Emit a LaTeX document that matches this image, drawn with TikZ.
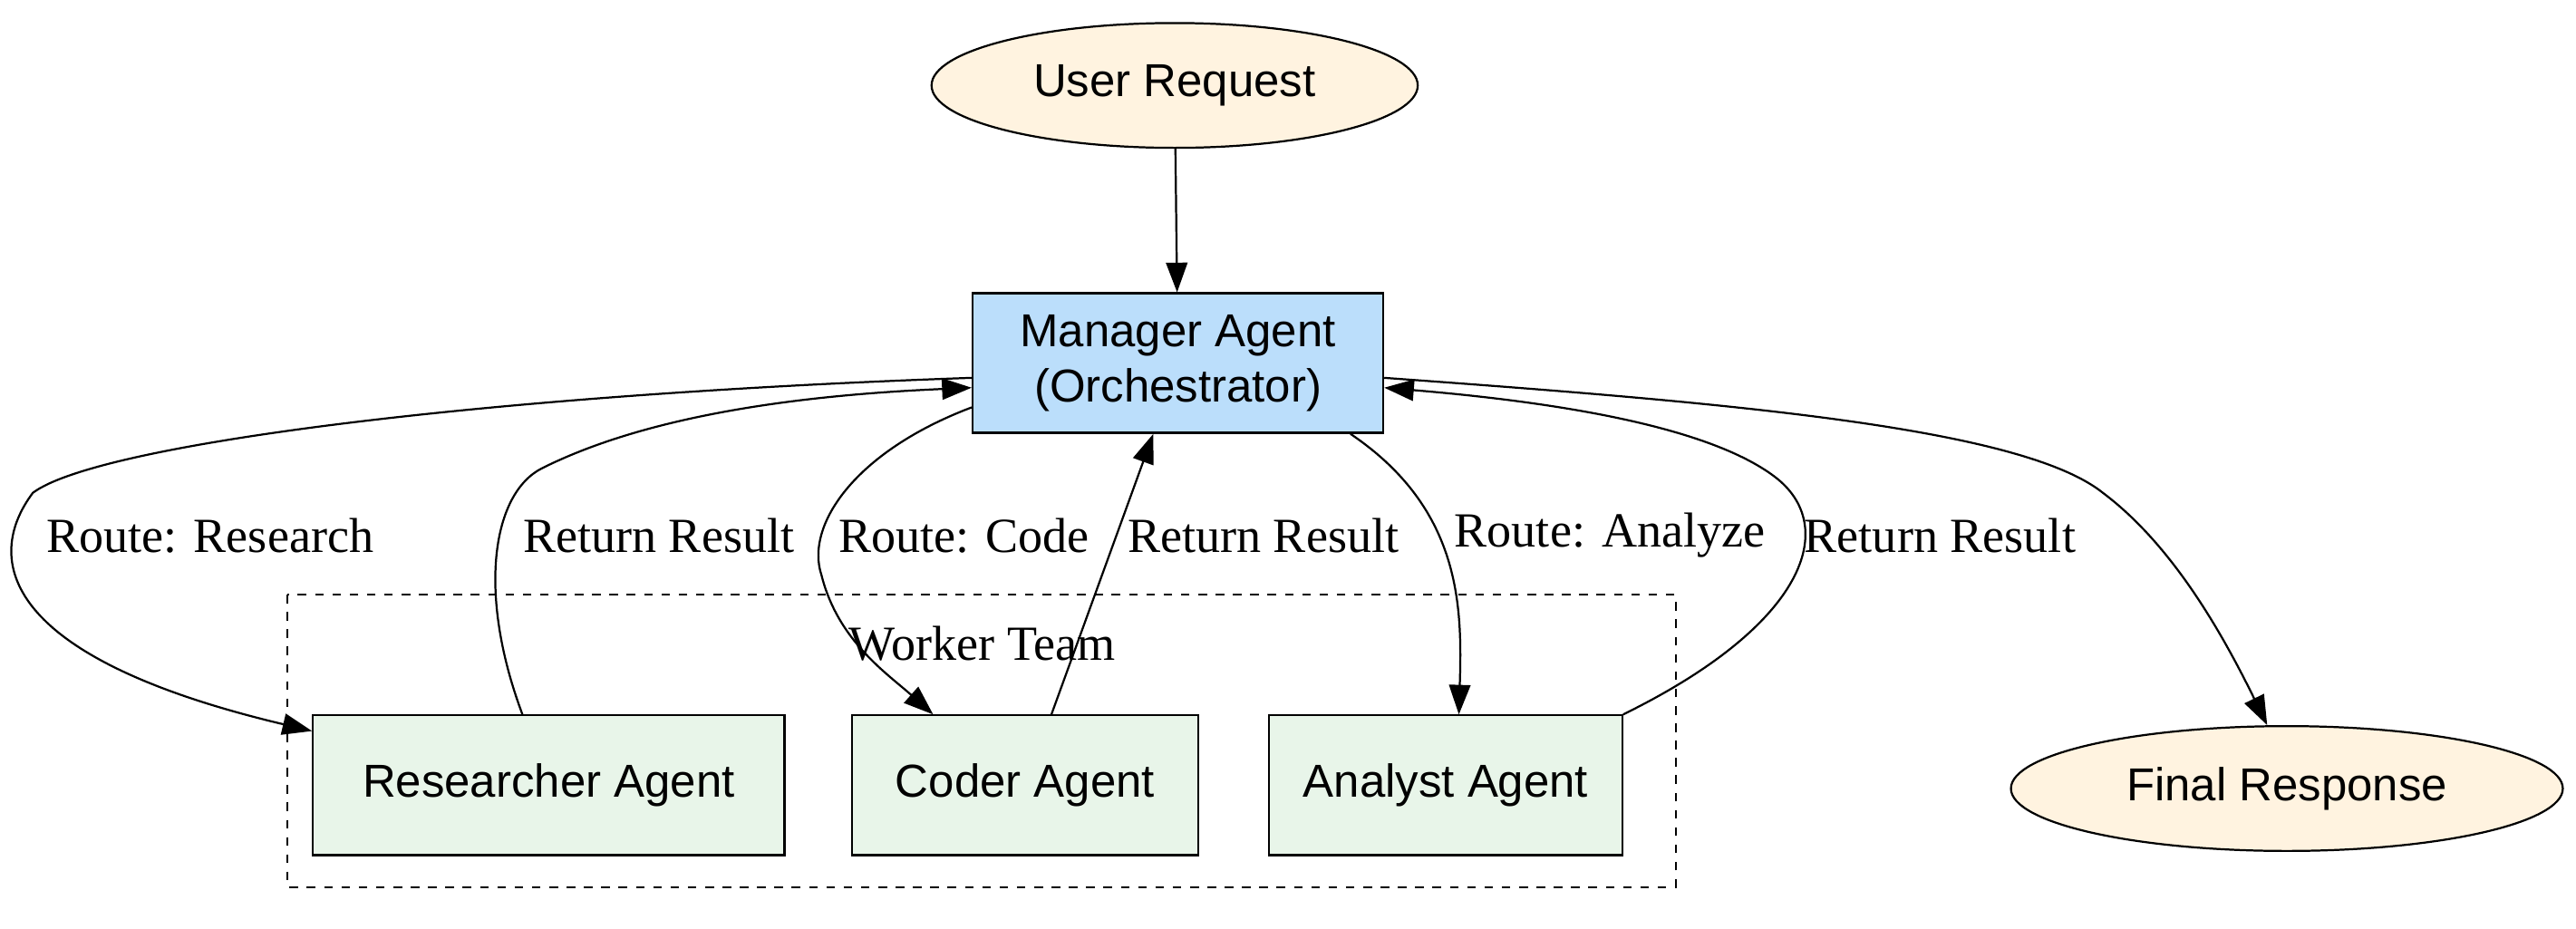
\documentclass[tikz,border=0pt]{standalone}
\usepackage{fontspec}
\setmainfont{Liberation Serif}
\setsansfont{Liberation Sans}
\usetikzlibrary{shapes.geometric,arrows.meta}
\definecolor{ioFill}{HTML}{FFF3E0}
\definecolor{mgrFill}{HTML}{BBDEFB}
\definecolor{wrkFill}{HTML}{E8F5E9}
\tikzset{
  io/.style={ellipse,draw,fill=ioFill,line width=0.7pt,minimum height=1.52cm,font=\sffamily\fontsize{16}{19}\selectfont},
  agent/.style={rectangle,draw,line width=0.7pt,minimum height=1.7cm,align=center,font=\sffamily\fontsize{16}{19}\selectfont},
  lbl/.style={font=\fontsize{17}{20}\selectfont,inner sep=0pt,anchor=west},
  flow/.style={-{Triangle[length=0.36cm,width=0.26cm]},line width=0.7pt}
}
\begin{document}
\begin{tikzpicture}[x=0.02cm,y=-0.02cm]
            \useasboundingbox (0,0) rectangle (1568,565);
            \draw[dashed,line width=0.7pt] (175,362) rectangle (1020,540);
            \node[lbl,anchor=center] (team) at (598,392) {Worker Team};

            \node[io,minimum width=5.92cm] (user) at (715,52) {User Request};
            \node[agent,fill=mgrFill,minimum width=5cm] (mgr) at (717,221) {Manager Agent\\(Orchestrator)};
            \node[agent,fill=wrkFill,minimum width=5.74cm] (res) at (334,478) {Researcher Agent};
            \node[agent,fill=wrkFill,minimum width=4.22cm] (cod) at (624,478) {Coder Agent};
            \node[agent,fill=wrkFill,minimum width=4.3cm] (ana) at (880,478) {Analyst Agent};
            \node[io,minimum width=6.72cm] (final) at (1392,480) {Final Response};

            \path[flow] (user) edge (mgr);
            \draw[flow] (mgr.west |- 0,230) .. controls (300,240) and (60,270) .. (20,300)
                .. controls (-10,340) and (0,400) .. (res.west |- 0,445);
            \draw[flow] (res.north -| 318,0) .. controls (290,360) and (300,300) .. (330,285)
                .. controls (400,250) and (500,240) .. (mgr.west |- 0,236);
            \draw[flow] (mgr.west |- 0,248) .. controls (520,275) and (490,320) .. (500,350)
                .. controls (510,390) and (540,410) .. (cod.north -| 568,0);
            \draw[flow] (cod.north -| 640,0) -- (mgr.south -| 702,0);
            \draw[flow] (mgr.south -| 822,0) .. controls (890,310) and (890,370) .. (ana.north -| 888,0);
            \draw[flow] (ana.north -| 988,0) .. controls (1100,380) and (1120,320) .. (1080,290)
                .. controls (1040,260) and (950,245) .. (mgr.east |- 0,236);
            \draw[flow] (mgr.east |- 0,230) .. controls (1050,245) and (1230,260) .. (1280,300)
                .. controls (1320,330) and (1350,380) .. (final.north -| 1380,0);

            \node[lbl] (l1) at (28,326) {Route: Research};
            \node[lbl] (l2) at (318,326) {Return Result};
            \node[lbl] (l3) at (510,326) {Route: Code};
            \node[lbl] (l4) at (686,326) {Return Result};
            \node[lbl] (l5) at (885,326) {Route: Analyze};
            \node[lbl] (l6) at (1098,326) {Return Result};
\end{tikzpicture}
\end{document}
